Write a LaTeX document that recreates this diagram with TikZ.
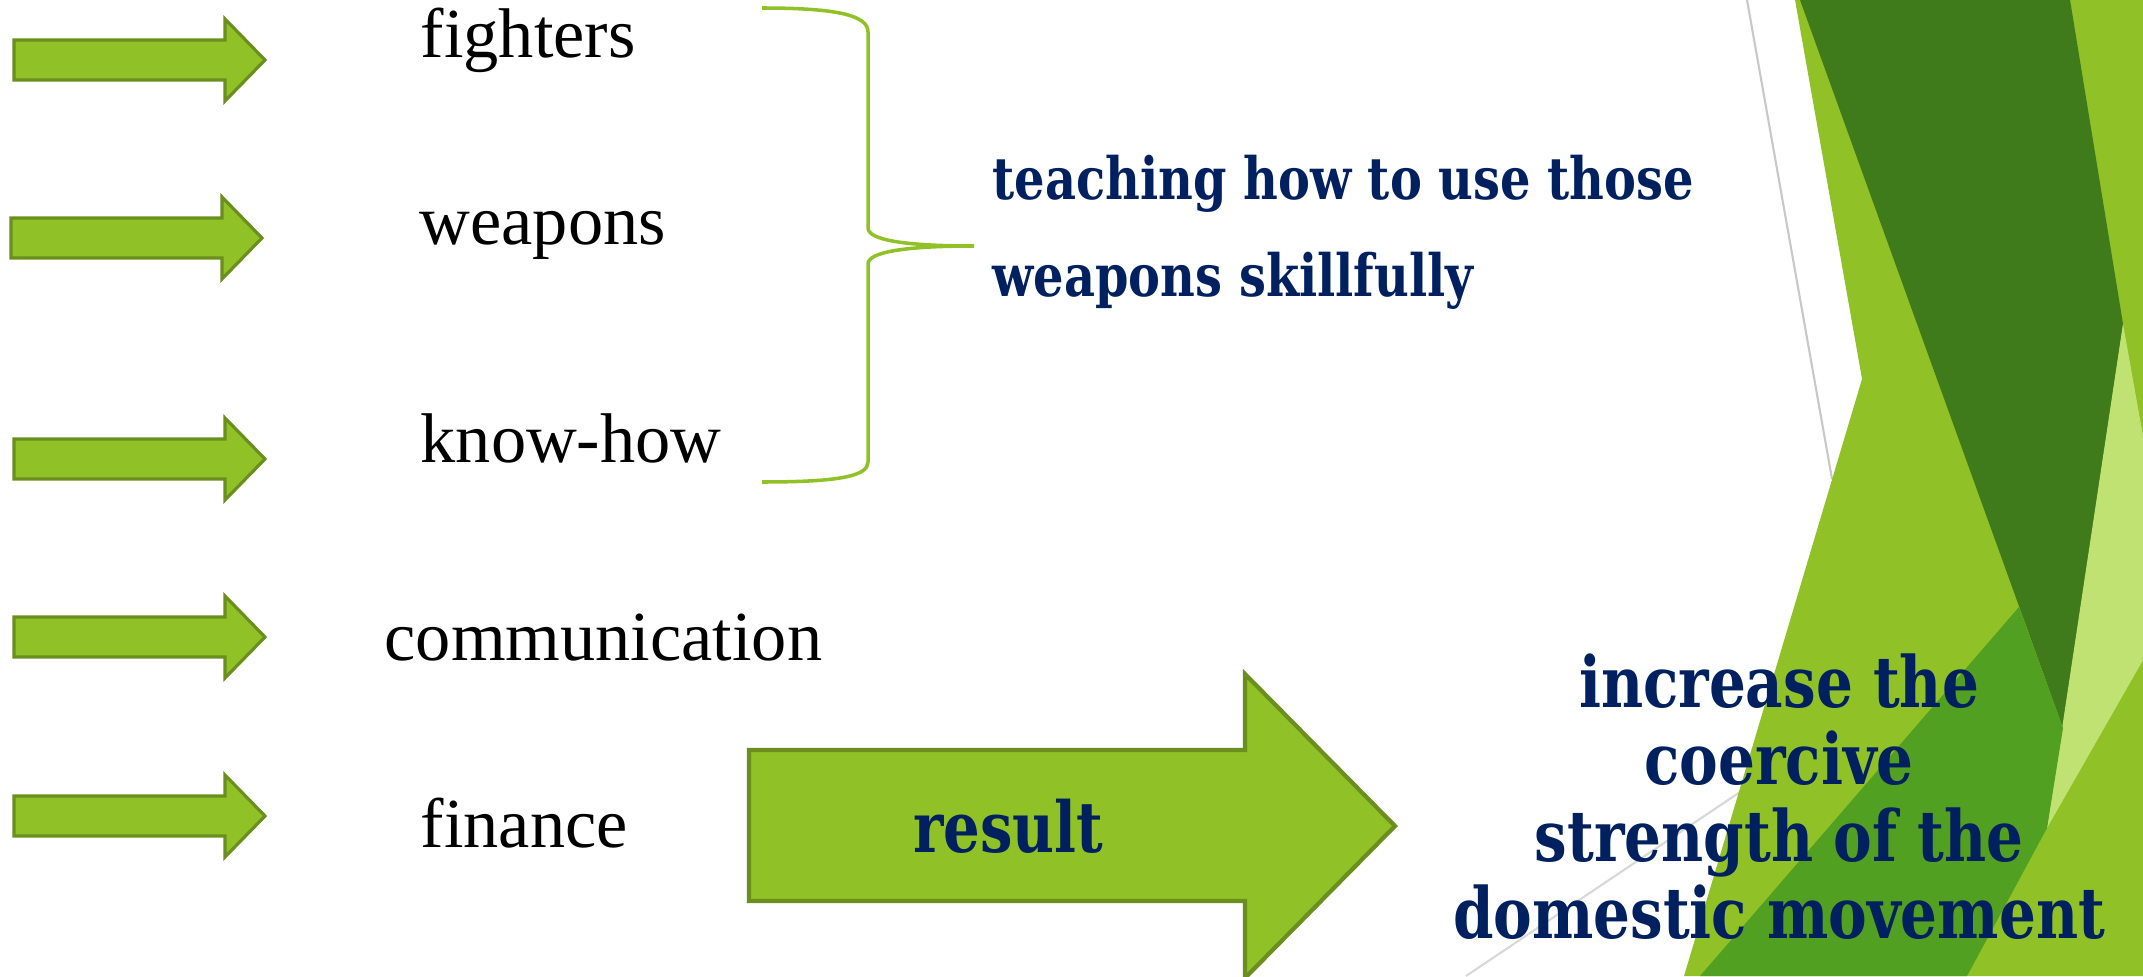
\documentclass[tikz,border=0pt]{standalone}
\usepackage{fontspec}
\setmainfont{Liberation Serif}
\newfontfamily\headfont[FakeStretch=0.82]{DejaVu Serif}
\usetikzlibrary{positioning}

\definecolor{navy}{HTML}{002060}
\definecolor{leaf}{HTML}{90C127}
\definecolor{leafline}{HTML}{6A8F1F}
\definecolor{forest}{HTML}{3F7A1B}
\definecolor{moss}{HTML}{52A021}
\definecolor{lime}{HTML}{BFE273}
\definecolor{rule}{HTML}{C8C8C8}

\begin{document}
\begin{tikzpicture}[
    x=0.01cm, y=-0.01cm,
    item/.style={anchor=base west, inner sep=0pt, font=\fontsize{20}{24}\selectfont},
    blockarrow/.style={fill=leaf, draw=leafline, line width=0.9pt, line join=miter},
    brace/.style={draw=leaf, line width=1pt},
    navytext/.style={text=navy, inner sep=0pt}
]
\useasboundingbox (0,0) rectangle (2143,976);

% background shapes on the right
\draw[rule, line width=0.6pt] (1747,0) -- (1832,479);
\draw[rule!70, line width=0.6pt] (1466,976) -- (1740,792);
\fill[leaf] (1795,0) -- (2143,0) -- (2143,976) -- (1684,976) -- (1862,379) -- cycle;
\fill[forest] (1800,0) -- (2070,0) -- (2123,324) -- (2063,728) -- cycle;
\fill[lime] (2123,324) -- (2143,436) -- (2143,660) -- (2047,828) -- cycle;
\fill[moss] (2019,607) -- (2063,728) -- (2047,828) -- (1967,976) -- (1700,976) -- cycle;

% small arrows
\foreach \x/\y in {14/60, 11/238, 14/459, 14/637, 14/816}
  \draw[blockarrow] (\x,\y-20) -- (\x+211,\y-20) -- (\x+211,\y-41) -- (\x+251,\y)
    -- (\x+211,\y+41) -- (\x+211,\y+20) -- (\x,\y+20) -- cycle;

% items
\node[item] (fighters) at (420,58) {fighters};
\node[item] (weapons) at (419,245) {weapons};
\node[item] (knowhow) at (420,462) {know-how};
\node[item] (communication) at (384,660) {communication};
\node[item] (finance) at (420,847) {finance};

% brace
\coordinate (bracetop) at (762,8);
\coordinate (bracetip) at (974,246);
\coordinate (bracebot) at (762,482);
\draw[brace] (bracetop) .. controls (840,8) and (868,16) .. (868,32)
  -- (868,228) .. controls (868,240) and (905,246) .. (bracetip)
  .. controls (905,246) and (868,252) .. (868,264)
  -- (868,462) .. controls (868,476) and (840,482) .. (bracebot);

\node[navytext, anchor=west, align=left,
  font={\headfont\bfseries\fontsize{16.6}{27.6}\selectfont}] (teaching)
  at (992,232) {teaching how to use those\\weapons skillfully};

% big arrow
\draw[blockarrow, line width=1.2pt] (749,750) -- (1245,750) -- (1245,674) -- (1395,826)
  -- (1245,978) -- (1245,901) -- (749,901) -- cycle;
\node[navytext, font={\headfont\bfseries\fontsize{20}{24}\selectfont}] (result)
  at (1008,826) {result};

\node[navytext, align=center,
  font={\headfont\bfseries\fontsize{20.1}{21.9}\selectfont}] (increase)
  at (1779,797) {increase the\\coercive\\strength of the\\domestic movement};
\end{tikzpicture}
\end{document}
